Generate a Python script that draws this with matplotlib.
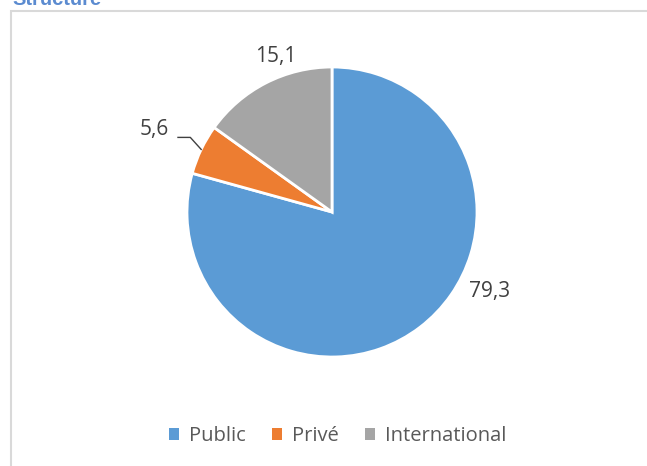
import numpy as np
import matplotlib.pyplot as plt
from matplotlib.patches import Rectangle

# Structure data
categories = ["Public", "Privé", "International"]
shares = [79.3, 5.6, 15.1]
colors = ["#5B9BD5", "#ED7D31", "#A5A5A5"]

FONT = "Open Sans"
W, H = 647, 466

fig = plt.figure(figsize=(W / 100, H / 100), dpi=100)

# chart frame (cut by the image on the right and bottom)
fig.patches.append(Rectangle((10.5 / W, -0.01), 1.0, 1 - 10.5 / H - (-0.01),
                             transform=fig.transFigure, fill=False,
                             edgecolor="#D9D9D9", linewidth=1.5))

fig.text(12 / W, 1 - 5 / H, "Structure", color="#5B8BD0", fontsize=14.5,
         fontweight="bold", family="Liberation Sans", ha="left", va="baseline")

# pie centred at (332, 212) px, radius 145 px
cx, cy, r = 332, 212, 145
ax = fig.add_axes([(cx - r) / W, (H - cy - r) / H, 2 * r / W, 2 * r / H])
wedges, _ = ax.pie(shares, colors=colors, startangle=90, counterclock=False,
                   radius=1.0, wedgeprops=dict(edgecolor="white", linewidth=2))
ax.set_xlim(-1, 1)
ax.set_ylim(-1, 1)
ax.set_aspect("equal")
ax.axis("off")

# data labels: (angle in degrees, distance from centre in radii)
label_pos = [(-26.8, 1.22), (155.0, 1.35), (110.0, 1.14)]
for w, val, (ang, dist) in zip(wedges, shares, label_pos):
    a = np.deg2rad(ang)
    ax.text(dist * np.cos(a), dist * np.sin(a), f"{val:.1f}".replace(".", ","),
            ha="center", va="center", fontsize=15, family=FONT,
            color="#404040", clip_on=False)

# leader line for the small slice
w = wedges[1]
mid = np.deg2rad((w.theta1 + w.theta2) / 2)
x0, y0 = np.cos(mid), np.sin(mid)
ax.plot([x0, x0 - 0.075, x0 - 0.16], [y0, y0 + 0.083, y0 + 0.083],
        color="#404040", linewidth=1, clip_on=False)

handles = [Rectangle((0, 0), 1, 1, facecolor=c) for c in colors]
fig.legend(handles, categories, loc="center", bbox_to_anchor=(338 / W, 1 - 436 / H),
           ncol=3, frameon=False, handlelength=0.5, handleheight=0.5,
           handletextpad=0.5, columnspacing=1.3,
           prop=dict(family=FONT, size=14.5), labelcolor="#595959")

fig.savefig("out.png", dpi=100)
